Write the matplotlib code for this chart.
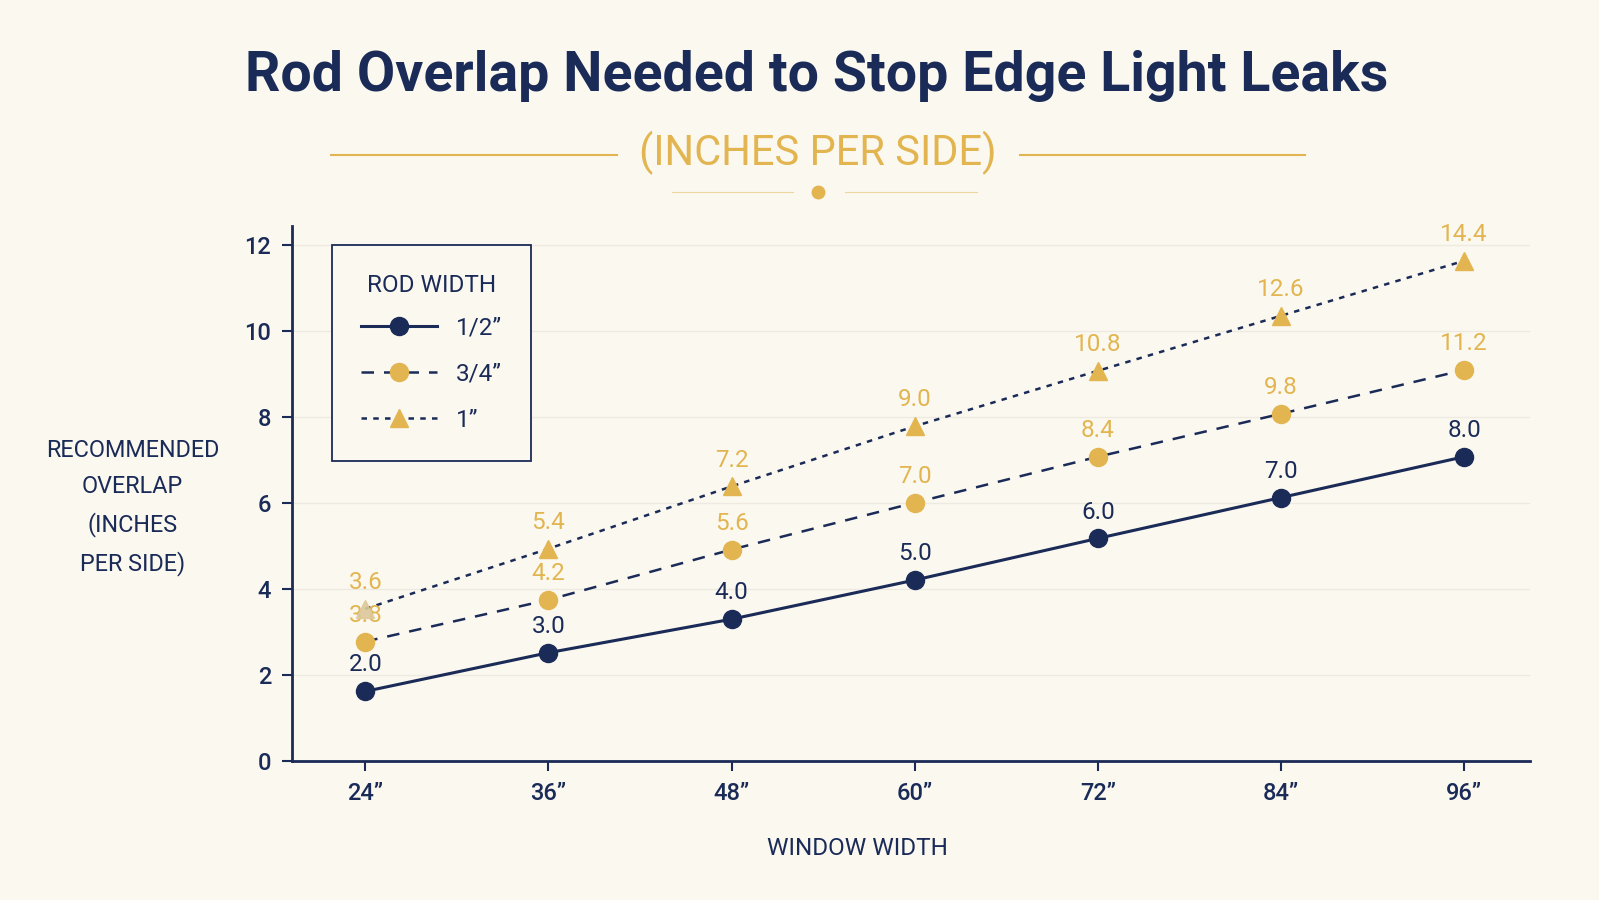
import matplotlib
matplotlib.use("Agg")
import matplotlib.pyplot as plt
from matplotlib.lines import Line2D

# data
windows = ['24\u201d', '36\u201d', '48\u201d', '60\u201d', '72\u201d', '84\u201d', '96\u201d']
half_pos = [1.62, 2.52, 3.30, 4.21, 5.18, 6.13, 7.08]
threeq_pos = [2.78, 3.75, 4.92, 6.01, 7.08, 8.08, 9.10]
one_pos = [3.54, 4.94, 6.39, 7.79, 9.08, 10.36, 11.64]
half_lbl = ['2.0', '3.0', '4.0', '5.0', '6.0', '7.0', '8.0']
threeq_lbl = ['3.8', '4.2', '5.6', '7.0', '8.4', '9.8', '11.2']
one_lbl = ['3.6', '5.4', '7.2', '9.0', '10.8', '12.6', '14.4']
yticks = [0, 2, 4, 6, 8, 10, 12]

NAVY = '#1b2b58'
GOLD = '#e2b550'
BG = '#fbf8f0'
GRID = '#eeeae1'

plt.rcParams['font.family'] = ['Roboto', 'DejaVu Sans']

fig = plt.figure(figsize=(15.99, 9.0), dpi=100, facecolor=BG)
ax = fig.add_axes([292/1599, 1-761/900, (1530-292)/1599, (761-226)/900])
ax.set_facecolor(BG)

x = list(range(len(windows)))

ax.plot(x, half_pos, color=NAVY, lw=2.2, ls='-', marker='o', ms=13,
        mfc=NAVY, mec=NAVY, zorder=4)
ax.plot(x, threeq_pos, color=NAVY, lw=1.8, ls=(0, (5, 4)), marker='o', ms=13,
        mfc=GOLD, mec=GOLD, zorder=4)
ax.plot(x, one_pos, color=NAVY, lw=1.8, ls=(0, (2.2, 2.5)), zorder=3)
# first triangle is faded and sits over the 3/4" label
ax.plot(x[1:], one_pos[1:], ls='none', marker='^', ms=13, mfc=GOLD, mec=GOLD, zorder=4)
ax.plot(x[:1], one_pos[:1], ls='none', marker='^', ms=13, mfc='#dcc89a', mec='#dcc89a',
        alpha=0.9, zorder=6)

for xs, ys, lbls, c in [(x, half_pos, half_lbl, NAVY),
                        (x, threeq_pos, threeq_lbl, GOLD),
                        (x, one_pos, one_lbl, GOLD)]:
    for xi, yi, t in zip(xs, ys, lbls):
        ax.annotate(t, (xi, yi), xytext=(0, 19), textcoords='offset points',
                    ha='center', va='center', fontsize=17.5, color=c, zorder=5)

ax.set_xlim(-0.4, 6.36)
ax.set_ylim(0, 12.45)
ax.set_xticks(x)
ax.set_xticklabels(windows)
ax.set_yticks(yticks)
ax.tick_params(axis='both', colors=NAVY, labelsize=17, length=7, width=1.5, pad=8)
for lab in ax.get_xticklabels() + ax.get_yticklabels():
    lab.set_fontweight('medium')
ax.grid(axis='y', color=GRID, lw=1)
ax.set_axisbelow(True)
for s in ['top', 'right']:
    ax.spines[s].set_visible(False)
for s in ['left', 'bottom']:
    ax.spines[s].set_color(NAVY)
    ax.spines[s].set_linewidth(2)

# axis titles
fig.text(0.083, 0.436, 'RECOMMENDED\nOVERLAP\n(INCHES\nPER SIDE)', ha='center', va='center',
         fontsize=16.8, color=NAVY, linespacing=1.72)
fig.text(0.536, 0.057, 'WINDOW WIDTH', ha='center', va='center', fontsize=17.5, color=NAVY)

# title block
fig.text(0.511, 0.915, 'Rod Overlap Needed to Stop Edge Light Leaks', ha='center', va='center',
         fontsize=40, fontweight='bold', color=NAVY)
fig.text(0.5115, 0.830, '(INCHES PER SIDE)', ha='center', va='center',
         fontsize=30, color=GOLD)
fig.add_artist(Line2D([331/1599, 617/1599], [0.828, 0.828], color=GOLD, lw=1.5))
fig.add_artist(Line2D([1020/1599, 1305/1599], [0.828, 0.828], color=GOLD, lw=1.5))
fig.add_artist(Line2D([672/1599, 793/1599], [1-192/900]*2, color=GOLD, lw=0.8, alpha=0.5))
fig.add_artist(Line2D([845/1599, 977/1599], [1-192/900]*2, color=GOLD, lw=0.8, alpha=0.5))
fig.add_artist(Line2D([818/1599], [1-192/900], marker='o', ms=9, color=GOLD, ls='none'))

# legend
handles = [
    Line2D([], [], color=NAVY, lw=2.2, marker='o', ms=13, mfc=NAVY, mec=NAVY),
    Line2D([], [], color=NAVY, lw=1.8, ls=(0, (5, 4)), marker='o', ms=13, mfc=GOLD, mec=GOLD),
    Line2D([], [], color=NAVY, lw=1.8, ls=(0, (2.2, 2.5)), marker='^', ms=13, mfc=GOLD, mec=GOLD),
]
leg = ax.legend(handles, ['1/2\u201d', '3/4\u201d', '1\u201d'], title='ROD WIDTH',
                loc='upper left', bbox_to_anchor=(332/1599, 1-245/900),
                bbox_transform=fig.transFigure, borderaxespad=0, fontsize=17.5,
                title_fontsize=17.5, handlelength=3.1, labelspacing=0.95, borderpad=1.2,
                handletextpad=0.8, frameon=True, fancybox=False, labelcolor=NAVY)
leg.get_title().set_color(NAVY)
leg._legend_box.sep = 14
fr = leg.get_frame()
fr.set_edgecolor(NAVY)
fr.set_facecolor(BG)
fr.set_linewidth(1.3)
fr.set_alpha(1)

fig.savefig('out.png', dpi=100, facecolor=BG)
